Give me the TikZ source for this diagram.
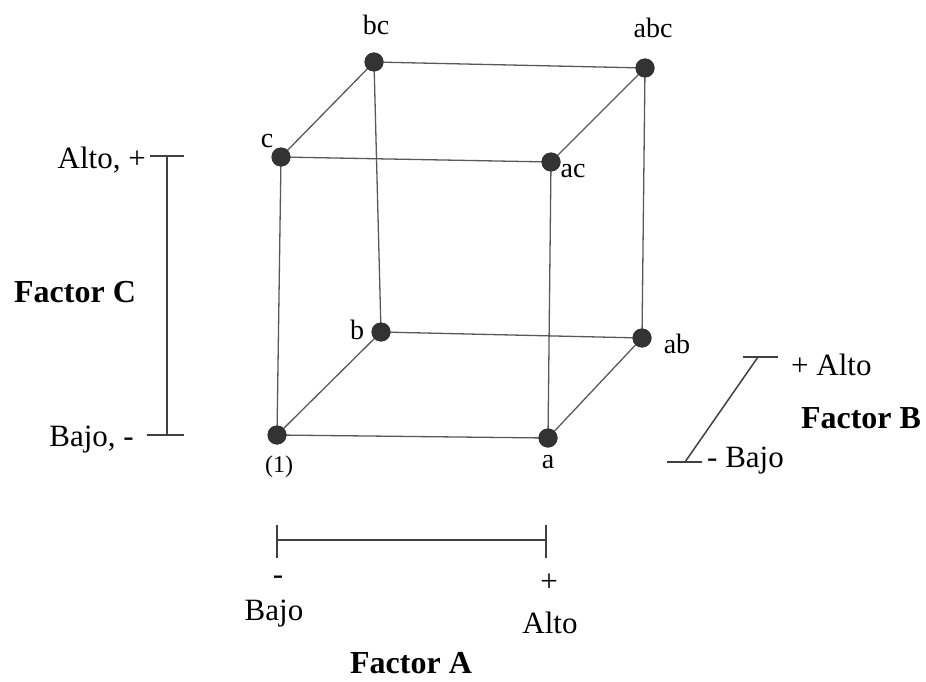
\documentclass[tikz,border=0pt]{standalone}
\usepackage{fontspec}
\setmainfont{Liberation Serif}
\begin{document}
\begin{tikzpicture}[x=1pt,y=-1pt,
  edge/.style={draw=black!65,line width=1.3pt},
  bar/.style={draw=black!75,line width=1.5pt},
  vtx/.style={circle,fill=black!80,inner sep=0pt,minimum size=19pt},
  lab/.style={font=\fontsize{28}{30}\selectfont,inner sep=0pt,anchor=base},
  big/.style={font=\fontsize{31}{34}\selectfont,inner sep=0pt,anchor=base},
  fac/.style={font=\fontsize{32}{34}\selectfont\bfseries,inner sep=0pt,anchor=base}]
\useasboundingbox (0,0) rectangle (926,682);
% vertices
\node[vtx] (o)   at (277,435) {};
\node[vtx] (a)   at (548,438) {};
\node[vtx] (b)   at (381,332) {};
\node[vtx] (ab)  at (642,338) {};
\node[vtx] (c)   at (281,157) {};
\node[vtx] (ac)  at (551,162) {};
\node[vtx] (bc)  at (374,62) {};
\node[vtx] (abc) at (645,68) {};
% edges
\draw[edge] (o.center) -- (a.center);
\draw[edge] (b.center) -- (ab.center);
\draw[edge] (c.center) -- (ac.center);
\draw[edge] (bc.center) -- (abc.center);
\draw[edge] (o.center) -- (c.center);
\draw[edge] (a.center) -- (ac.center);
\draw[edge] (b.center) -- (bc.center);
\draw[edge] (ab.center) -- (abc.center);
\draw[edge] (o.center) -- (b.center);
\draw[edge] (a.center) -- (ab.center);
\draw[edge] (c.center) -- (bc.center);
\draw[edge] (ac.center) -- (abc.center);
% redraw dots on top
\foreach \n in {o,a,b,ab,c,ac,bc,abc} \fill[black!80] (\n) circle (9.5pt);
% vertex labels
\node[lab] (lo) at (279,472) {\fontsize{24}{28}\selectfont(1)};
\node[lab] (la) at (548,468) {a};
\node[lab] (lb) at (357,339) {b};
\node[lab] (lab2) at (677,353) {ab};
\node[lab] (lc) at (267,147) {c};
\node[lab] (lac) at (573,177) {ac};
\node[lab] (lbc) at (376,35) {bc};
\node[lab] (labc) at (653,38) {abc};
% Factor C
\coordinate (ct) at (167,156);
\coordinate (cb) at (167,435);
\coordinate (ctl) at (150,156);
\coordinate (ctr) at (184,156);
\coordinate (cbl) at (147,435);
\coordinate (cbr) at (184,435);
\draw[bar] (ct) -- (cb);
\draw[bar] (ctl) -- (ctr);
\draw[bar] (cbl) -- (cbr);
\node[big,anchor=base east] (calto) at (146,168) {Alto, +};
\node[big,anchor=base east] (cbajo) at (134,446) {Bajo, -};
\node[fac] (fc) at (75,302) {Factor C};
% Factor B
\coordinate (bt) at (758,357);
\coordinate (bb) at (685,462);
\coordinate (btl) at (743,357);
\coordinate (btr) at (778,357);
\coordinate (bbl) at (667,462);
\coordinate (bbr) at (702,462);
\draw[bar] (bt) -- (bb);
\draw[bar] (btl) -- (btr);
\draw[bar] (bbl) -- (bbr);
\node[big,anchor=base west] (balto) at (791,375) {+ Alto};
\node[big,anchor=base west] (bbajo) at (707,467) {- Bajo};
\node[fac] (fb) at (861,428) {Factor B};
% Factor A
\coordinate (al) at (277,540);
\coordinate (ar) at (546,540);
\draw[bar] (al) -- (ar);
\draw[bar] (277,525) -- (277,558);
\draw[bar] (546,525) -- (546,558);
\node[big] (aminus) at (278,584) {-};
\node[big] (abajo) at (274,620) {Bajo};
\node[big] (aplus) at (549,591) {+};
\node[big] (aalto) at (550,633) {Alto};
\node[fac] (fa) at (411,673) {Factor A};
\end{tikzpicture}
\end{document}
